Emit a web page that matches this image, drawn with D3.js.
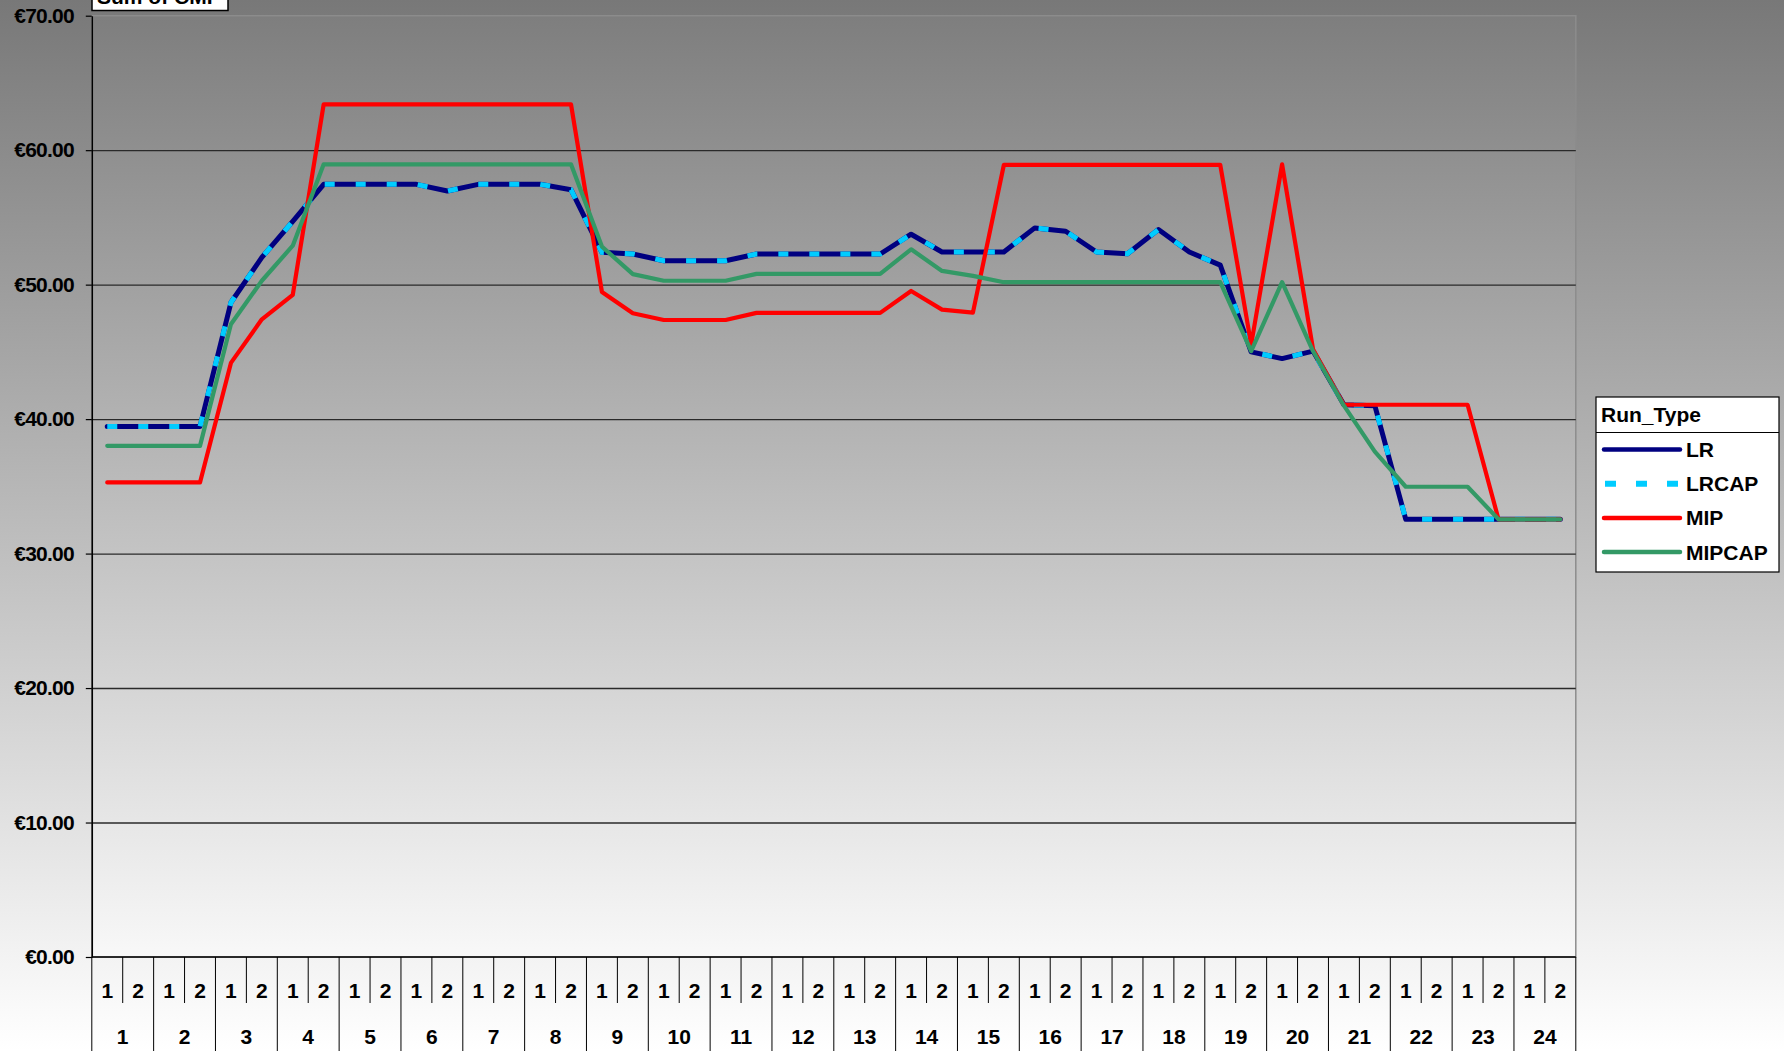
<!DOCTYPE html>
<html lang="en">
<head>
<meta charset="UTF-8"/>
<title>Sum of CMP by Run_Type</title>
<style>
  body { margin: 0; background: #fff; }
  svg text { font-family: "Liberation Sans", Arial, sans-serif; font-weight: bold; fill: #000; }
</style>
</head>
<body>
<svg id="chart" width="1784" height="1051"></svg>

<script src="https://cdn.jsdelivr.net/npm/d3@7"></script>
<script>

// categories: hour, then period within the hour
var hours   = [1,2,3,4,5,6,7,8,9,10,11,12,13,14,15,16,17,18,19,20,21,22,23,24];
var periods = [1,2];
var yTicks  = [0,10,20,30,40,50,60,70];

// series values, 48 per series (hour 1 period 1 .. hour 24 period 2)
var LR = [39.45,39.45,39.45,39.45,48.67,52.03,54.70,57.46,57.46,57.46,57.46,56.96,
          57.46,57.46,57.46,57.06,52.40,52.28,51.78,51.78,51.78,52.28,52.28,52.28,
          52.28,52.28,53.75,52.43,52.43,52.43,54.22,53.97,52.43,52.30,54.10,52.43,
          51.45,45.00,44.50,45.06,41.07,41.00,32.55,32.55,32.55,32.55,32.55,32.55];
var LRCAP = [39.45,39.45,39.45,39.45,48.67,52.03,54.70,57.46,57.46,57.46,57.46,56.96,
          57.46,57.46,57.46,57.06,52.40,52.28,51.78,51.78,51.78,52.28,52.28,52.28,
          52.28,52.28,53.75,52.43,52.43,52.43,54.22,53.97,52.43,52.30,54.10,52.43,
          51.45,45.00,44.50,45.06,41.07,41.00,32.55,32.55,32.55,32.55,32.55,32.55];
var MIP = [35.29,35.29,35.29,35.29,44.18,47.42,49.24,63.41,63.41,63.41,63.41,63.41,
          63.41,63.41,63.41,63.41,49.46,47.87,47.37,47.37,47.37,47.90,47.90,47.90,
          47.90,47.90,49.53,48.14,47.92,58.90,58.90,58.90,58.90,58.90,58.90,58.90,
          58.90,45.55,58.95,45.20,41.07,41.07,41.07,41.07,41.07,32.55,32.55,32.55];
var MIPCAP = [38.01,38.01,38.01,38.01,47.05,50.29,52.90,58.95,58.95,58.95,58.95,58.95,
          58.95,58.95,58.95,58.95,52.83,50.78,50.29,50.29,50.29,50.80,50.80,50.80,
          50.80,50.80,52.63,51.02,50.65,50.18,50.18,50.18,50.18,50.18,50.18,50.18,
          50.18,45.06,50.18,45.06,41.00,37.58,34.97,34.97,34.97,32.55,32.55,32.55];

var seriesNames = ["LR","LRCAP","MIP","MIPCAP"];
var seriesData  = [LR, LRCAP, MIP, MIPCAP];

// plot box
var plotL = 91.8, plotR = 1575.8, plotT = 15.7, plotB = 957;

var svg = d3.select("#chart");

// backgrounds (gray to white gradient like excel)
var defs = svg.append("defs");
var g1 = defs.append("linearGradient").attr("id","bgGrad").attr("x1",0).attr("y1",0).attr("x2",0).attr("y2",1);
g1.append("stop").attr("offset","0%").attr("stop-color","#787878");
g1.append("stop").attr("offset","100%").attr("stop-color","#ffffff");
var g2 = defs.append("linearGradient").attr("id","plotGrad").attr("x1",0).attr("y1",0).attr("x2",0).attr("y2",1);
g2.append("stop").attr("offset","0%").attr("stop-color","#7e7e7e");
g2.append("stop").attr("offset","100%").attr("stop-color","#f8f8f8");

svg.append("rect").attr("width",1784).attr("height",1051).attr("fill","url(#bgGrad)");
svg.append("rect")
    .attr("x",plotL).attr("y",plotT).attr("width",plotR-plotL).attr("height",plotB-plotT)
    .attr("fill","url(#plotGrad)").attr("stroke","#8c8c8c").attr("stroke-width",1.5);

// scales
var keys = [];
hours.forEach(function(h) { periods.forEach(function(p) { keys.push(h + "-" + p); }); });

var x  = d3.scaleBand().domain(keys).range([plotL, plotR]);
var xh = d3.scaleBand().domain(hours).range([plotL, plotR]);
var y  = d3.scaleLinear().domain([0, 70]).range([plotB, plotT]);

// gridlines
svg.append("g")
    .attr("transform","translate(" + plotL + ",0)")
    .call(d3.axisLeft(y).tickValues(yTicks.slice(1, 7)).tickSize(-(plotR-plotL)).tickFormat(""))
    .call(function(g) {
        g.select(".domain").remove();
        g.selectAll("line").attr("stroke","#2a2a2a").attr("stroke-width",1.4);
    });

// y axis
svg.append("g")
    .attr("transform","translate(" + plotL + ",0)")
    .call(d3.axisLeft(y).tickValues(yTicks).tickSize(6).tickSizeOuter(0)
          .tickFormat(function(d) { return "\u20ac" + d.toFixed(2); }))
    .call(function(g) {
        g.select(".domain").attr("stroke","#000").attr("stroke-width",1.5);
        g.selectAll("line").attr("stroke","#000").attr("stroke-width",1.2);
        g.selectAll("text").attr("x",-18).style("font-size","21px")
            .style("letter-spacing","-0.8px").attr("font-family",null);
    });

// x axis baseline
svg.append("line").attr("x1",plotL).attr("x2",plotR).attr("y1",plotB).attr("y2",plotB)
    .attr("stroke","#000").attr("stroke-width",1.5);

// x axis: period labels
svg.append("g")
    .attr("transform","translate(0," + plotB + ")")
    .call(d3.axisBottom(x).tickSize(0).tickFormat(function(d) { return d.split("-")[1]; }))
    .call(function(g) {
        g.select(".domain").remove();
        g.selectAll("text").attr("y",33).attr("dy","0.36em").style("font-size","21px").attr("font-family",null);
    });

// x axis: hour labels
svg.append("g")
    .attr("transform","translate(0," + plotB + ")")
    .call(d3.axisBottom(xh).tickSize(0))
    .call(function(g) {
        g.select(".domain").remove();
        g.selectAll("text").attr("y",79).attr("dy","0.36em").style("font-size","21px").attr("font-family",null);
    });

// separators: short between periods, full between hours
svg.append("g").selectAll("line")
    .data(hours)
    .join("line")
    .attr("x1", function(d) { return xh(d) + xh.bandwidth()/2; })
    .attr("x2", function(d) { return xh(d) + xh.bandwidth()/2; })
    .attr("y1", plotB).attr("y2", plotB + 46)
    .attr("stroke","#000").attr("stroke-width",1);
svg.append("g").selectAll("line")
    .data(hours.concat(["end"]))
    .join("line")
    .attr("x1", function(d) { return d === "end" ? plotR : xh(d); })
    .attr("x2", function(d) { return d === "end" ? plotR : xh(d); })
    .attr("y1", plotB).attr("y2", 1051)
    .attr("stroke","#000").attr("stroke-width",1);

// lines
var line = d3.line()
    .x(function(d, i) { return x(keys[i]) + x.bandwidth()/2; })
    .y(function(d) { return y(d); });

var styles = {
    LR:     {c:"#000080", w:5,   dash:null},
    LRCAP:  {c:"#00ccff", w:5,   dash:"10,21"},
    MIP:    {c:"#ff0000", w:4.2, dash:null},
    MIPCAP: {c:"#339966", w:4.2, dash:null}
};

seriesNames.forEach(function(name, k) {
    var s = styles[name];
    svg.append("path")
        .datum(seriesData[k])
        .attr("d", line)
        .attr("fill","none")
        .attr("stroke", s.c)
        .attr("stroke-width", s.w)
        .attr("stroke-linejoin", s.dash ? "miter" : "round")
        .attr("stroke-linecap", s.dash ? "butt" : "round")
        .attr("stroke-dasharray", s.dash);
});

// page field button (cut at top)
svg.append("rect").attr("x",92).attr("y",-6).attr("width",136).attr("height",16.5)
    .attr("fill","#fff").attr("stroke","#000").attr("stroke-width",1.5);
svg.append("text").attr("x",97).attr("y",3.5).style("font-size","21px").text("Sum of CMP");

// legend
var lg = svg.append("g").attr("transform","translate(1596,397)");
lg.append("rect").attr("width",183).attr("height",175).attr("fill","#fff")
    .attr("stroke","#000").attr("stroke-width",1.2);
lg.append("line").attr("x1",0).attr("x2",183).attr("y1",35.5).attr("y2",35.5)
    .attr("stroke","#000").attr("stroke-width",1);
lg.append("text").attr("x",5).attr("y",25).style("font-size","21px").text("Run_Type");

var items = lg.selectAll("g.item")
    .data(seriesNames)
    .join("g")
    .attr("class","item")
    .attr("transform", function(d, i) { return "translate(0," + (52.5 + i*34.2) + ")"; });
items.append("line")
    .attr("x1", function(d) { return styles[d].dash ? 9 : 8; })
    .attr("x2", 84)
    .attr("stroke", function(d) { return styles[d].c; })
    .attr("stroke-width", function(d) { return styles[d].dash ? 6 : 4.5; })
    .attr("stroke-linecap", function(d) { return styles[d].dash ? "butt" : "round"; })
    .attr("stroke-dasharray", function(d) { return styles[d].dash ? "11,20" : null; });
items.append("text").attr("x",90).attr("y",0).attr("dy","0.36em")
    .style("font-size","21px").text(function(d) { return d; });

</script>
</body>
</html>
